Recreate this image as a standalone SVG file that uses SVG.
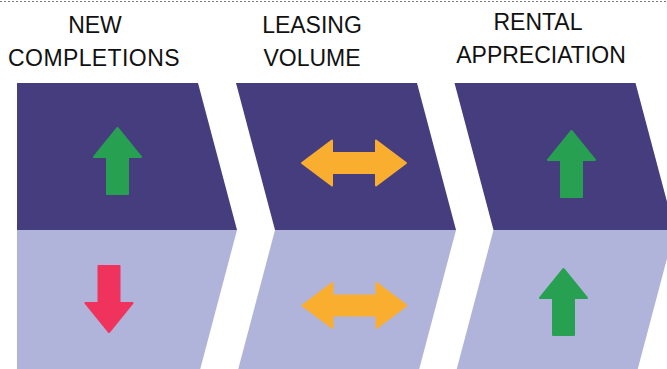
<svg xmlns="http://www.w3.org/2000/svg" xmlns:xlink="http://www.w3.org/1999/xlink" width="667" height="369" viewBox="0 0 667 369">
<style>
.lbl{font-family:"Liberation Sans",Arial,sans-serif;font-size:23px;fill:#111;text-anchor:middle}
.dark{fill:#463d7f}
.light{fill:#b1b4da}
.up{fill:#28a052;stroke:#28a052;stroke-width:2;stroke-linejoin:round}
.down{fill:#ef335c;stroke:#ef335c;stroke-width:2;stroke-linejoin:round}
.both{fill:#f9ae2f;stroke:#f9ae2f;stroke-width:2;stroke-linejoin:round}
</style>
<defs>
<path id="arrowUp" d="M0,1 L23.5,30 L10.5,30 L10.5,67 L-10.5,67 L-10.5,30 L-23.5,30 Z"/>
<path id="arrowDown" d="M0,-1 L23.5,-30 L10.5,-30 L10.5,-67 L-10.5,-67 L-10.5,-30 L-23.5,-30 Z"/>
<path id="arrowBoth" d="M-52,0 L-22,-22.5 L-22,-10 L22,-10 L22,-22.5 L52,0 L22,22.5 L22,10 L-22,10 L-22,22.5 Z"/>
</defs>
<rect width="667" height="369" fill="#fff"/>
<line x1="0" y1="1.5" x2="667" y2="1.5" stroke="#777" stroke-width="1" stroke-dasharray="2 2"/>
<g id="connectors"></g>
<g id="new-completions">
<text class="lbl" x="95" y="33">NEW</text>
<text class="lbl" x="94" y="66" letter-spacing="0.4">COMPLETIONS</text>
<path class="dark" d="M17,83 L198,83 L237,230 L17,230 Z"/>
<path class="light" d="M17,230 L237,230 L200,370 L17,370 Z"/>
<use href="#arrowUp" class="up" x="117.5" y="127"/>
<use href="#arrowDown" class="down" x="109" y="333"/>
</g>
<g id="leasing-volume">
<text class="lbl" x="312" y="33">LEASING</text>
<text class="lbl" x="312" y="66">VOLUME</text>
<path class="dark" d="M236,83 L417,83 L456,230 L275,230 Z"/>
<path class="light" d="M275,230 L456,230 L419,370 L238,370 Z"/>
<use href="#arrowBoth" class="both" x="354" y="163"/>
<use href="#arrowBoth" class="both" x="354.5" y="305.5"/>
</g>
<g id="rental-appreciation">
<text class="lbl" x="538" y="30">RENTAL</text>
<text class="lbl" x="541" y="63">APPRECIATION</text>
<path class="dark" d="M454.5,83 L635.5,83 L674.5,230 L493.5,230 Z"/>
<path class="light" d="M493.5,230 L674.5,230 L637.5,370 L456.5,370 Z"/>
<use href="#arrowUp" class="up" x="571.5" y="130"/>
<use href="#arrowUp" class="up" x="563.5" y="268"/>
</g>
</svg>
